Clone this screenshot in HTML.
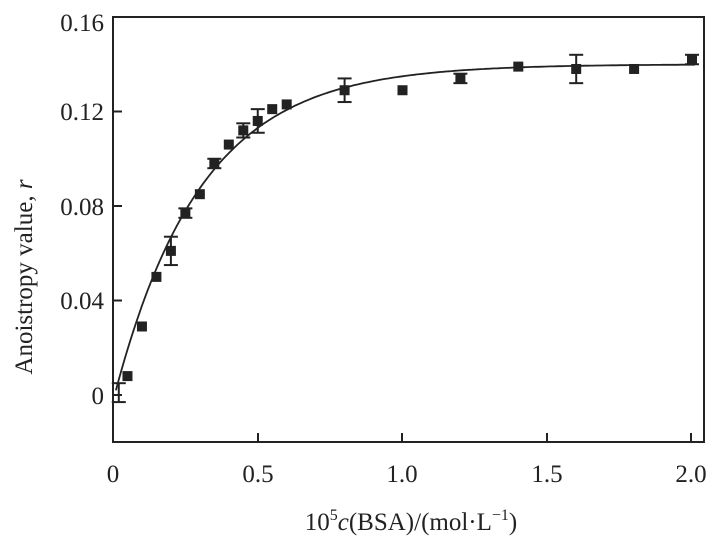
<!DOCTYPE html>
<html><head><meta charset="utf-8"><style>
body{margin:0;background:#fff}
svg text{font-family:"Liberation Serif",serif;fill:#222}
</style></head><body>
<svg id="s" width="721" height="547" xmlns="http://www.w3.org/2000/svg">
<rect x="113" y="17" width="591" height="425" fill="none" stroke="#222" stroke-width="2"/>
<g stroke="#222" stroke-width="2">
<line x1="113" y1="111.5" x2="122" y2="111.5"/><line x1="113" y1="206" x2="122" y2="206"/><line x1="113" y1="300.5" x2="122" y2="300.5"/><line x1="113" y1="395" x2="122" y2="395"/>
<line x1="258" y1="442" x2="258" y2="433"/><line x1="402" y1="442" x2="402" y2="433"/><line x1="547" y1="442" x2="547" y2="433"/><line x1="691" y1="442" x2="691" y2="433"/>
</g>
<g font-size="25" text-anchor="end">
<text x="104" y="31">0.16</text><text x="104" y="120">0.12</text><text x="104" y="215">0.08</text><text x="104" y="309">0.04</text><text x="104" y="404">0</text>
</g>
<g font-size="25" text-anchor="middle">
<text x="113" y="482">0</text><text x="258" y="482">0.5</text><text x="402" y="482">1.0</text><text x="547" y="482">1.5</text><text x="691" y="482">2.0</text>
</g>
<text x="411" y="530" font-size="25" text-anchor="middle">10<tspan font-size="16" dy="-10">5</tspan><tspan dy="10" font-style="italic">c</tspan>(BSA)/(mol·L<tspan font-size="16" dy="-10">−1</tspan><tspan dy="10">)</tspan></text>
<text transform="translate(32,277) rotate(-90)" font-size="25" text-anchor="middle">Anoistropy value, <tspan font-style="italic">r</tspan></text>
<path id="curve" fill="none" stroke="#222" stroke-width="1.8"/>
<g id="pts" fill="#222" stroke="#222" stroke-width="2"></g>
</svg>
<script>
function X(c){return 113+c*289.5}function Y(r){return 395-r/0.04*94.5}
var d="";for(var i=0;i<=200;i++){var c=0.01+i*0.01;var r=0.002+0.138*(1-Math.exp(-(c-0.01)/0.3));d+=(i?"L":"M")+X(c).toFixed(1)+" "+Y(r).toFixed(1);}
document.getElementById("curve").setAttribute("d",d);
var P=[[0.02,0.001,0.004],[0.05,0.008,0],[0.1,0.029,0],[0.15,0.05,0],[0.2,0.061,0.006],[0.25,0.077,0.002],[0.3,0.085,0],[0.35,0.098,0.002],[0.4,0.106,0],[0.45,0.112,0.003],[0.5,0.116,0.005],[0.55,0.121,0],[0.6,0.123,0],[0.8,0.129,0.005],[1.0,0.129,0],[1.2,0.134,0.002],[1.4,0.139,0],[1.6,0.138,0.006],[1.8,0.138,0],[2.0,0.142,0.002]];
var h="";P.forEach(function(p,k){var x=X(p[0]),y=Y(p[1]);
if(k>0)h+='<rect x="'+(x-5)+'" y="'+(y-5)+'" width="10" height="10" stroke="none"/>';
if(p[2]){var y1=Y(p[1]+p[2]),y2=Y(p[1]-p[2]);h+='<line x1="'+x+'" y1="'+y1+'" x2="'+x+'" y2="'+y2+'"/><line x1="'+(x-7)+'" y1="'+y1+'" x2="'+(x+7)+'" y2="'+y1+'"/><line x1="'+(x-7)+'" y1="'+y2+'" x2="'+(x+7)+'" y2="'+y2+'"/>';}});
document.getElementById("pts").innerHTML=h;
</script>
</body></html>
